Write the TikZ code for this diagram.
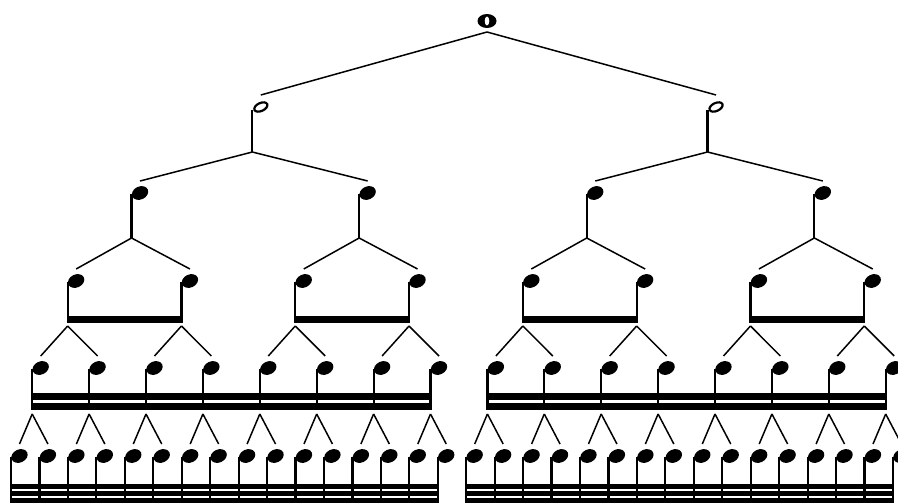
\documentclass[tikz,border=0pt]{standalone}
\usetikzlibrary{shapes.geometric}
\tikzset{
  notehead/.style={ellipse,fill=black,inner sep=0pt,minimum width=17pt,minimum height=13pt,rotate=25},
  halfhead/.style={ellipse,draw=black,line width=2.2pt,inner sep=0pt,minimum width=14pt,minimum height=8pt,rotate=25},
  wholehead/.style={ellipse,fill=black,inner sep=0pt,minimum width=19pt,minimum height=14pt,
    path picture={\fill[white,rotate=-30] (path picture bounding box.center) ellipse (2.3pt and 4.5pt);}},
  stemline/.style={line width=2.2pt},
  branchline/.style={line width=1.5pt},
}
\begin{document}
\begin{tikzpicture}[x=1pt,y=-1pt]
\useasboundingbox (0,0) rectangle (898,503);
% whole note
\node[wholehead] (w) at (487,21) {};
\coordinate (w-a) at (487,32);
% half notes
\foreach \n in {1,2} {
  \pgfmathsetmacro\s{252.35+455.2*(\n-1)}
  \node[halfhead] (h\n) at (\s+8.5,107) {};
  \draw[stemline] (\s,110) -- (\s,152) coordinate (h\n-a);
  \draw[branchline] (w-a) -- ([yshift=12pt]h\n.center);
}
% quarter notes
\foreach \m in {1,...,4} {
  \pgfmathsetmacro\s{131.55+227.6*(\m-1)}
  \pgfmathtruncatemacro\p{(\m+1)/2}
  \node[notehead] (q\m) at (\s+8.5,193) {};
  \draw[stemline] (\s,194) -- (\s,238) coordinate (q\m-a);
  \draw[branchline] (h\p-a) -- ([yshift=12pt]q\m.center);
}
% eighth notes
\foreach \i in {1,...,8} {
  \pgfmathsetmacro\s{67.65+113.8*(\i-1)}
  \pgfmathtruncatemacro\p{(\i+1)/2}
  \node[notehead] (e\i) at (\s+8.5,281) {};
  \draw[stemline] (\s,282) -- (\s,323) coordinate (e\i-b);
  \coordinate (e\i-a) at (\s,326);
  \draw[branchline] (q\p-a) -- ([yshift=12pt]e\i.center);
}
\foreach \i/\j in {1/2,3/4,5/6,7/8}
  \fill ([xshift=-1.1pt]e\i-b) rectangle ([xshift=1.1pt,yshift=7.5pt]e\j-b);
% sixteenth notes
\foreach \j in {1,...,16} {
  \pgfmathsetmacro\s{32.2+56.9*(\j-1)}
  \pgfmathtruncatemacro\p{(\j+1)/2}
  \node[notehead] (s\j) at (\s+8.5,368) {};
  \draw[stemline] (\s,369) -- (\s,410) coordinate (s\j-b);
  \coordinate (s\j-a) at (\s,414);
  \draw[branchline] (e\p-a) -- ([yshift=12pt]s\j.center);
}
\foreach \i/\j in {1/8,9/16}
  \foreach \y/\z in {0/7,10/17}
    \fill ([xshift=-1.1pt,yshift=\y pt]s\i-b) rectangle ([xshift=1.1pt,yshift=\z pt]s\j-b);
% thirty-second notes
\foreach \k in {1,...,32} {
  \pgfmathsetmacro\s{11+28.45*(\k-1)}
  \pgfmathtruncatemacro\p{(\k+1)/2}
  \node[notehead] (t\k) at (\s+8.5,456) {};
  \draw[stemline] (\s,457) -- (\s,503) coordinate (t\k-b);
  \draw[branchline] (s\p-a) -- ([yshift=12pt]t\k.center);
}
\foreach \i/\j in {1/16,17/32}
  \foreach \y/\z in {0/5.5,7/12.5,14/19.5}
    \fill ([xshift=-1.1pt,yshift=\y pt]t\i-b) rectangle ([xshift=1.1pt,yshift=\z pt]t\j-b);
\end{tikzpicture}
\end{document}
